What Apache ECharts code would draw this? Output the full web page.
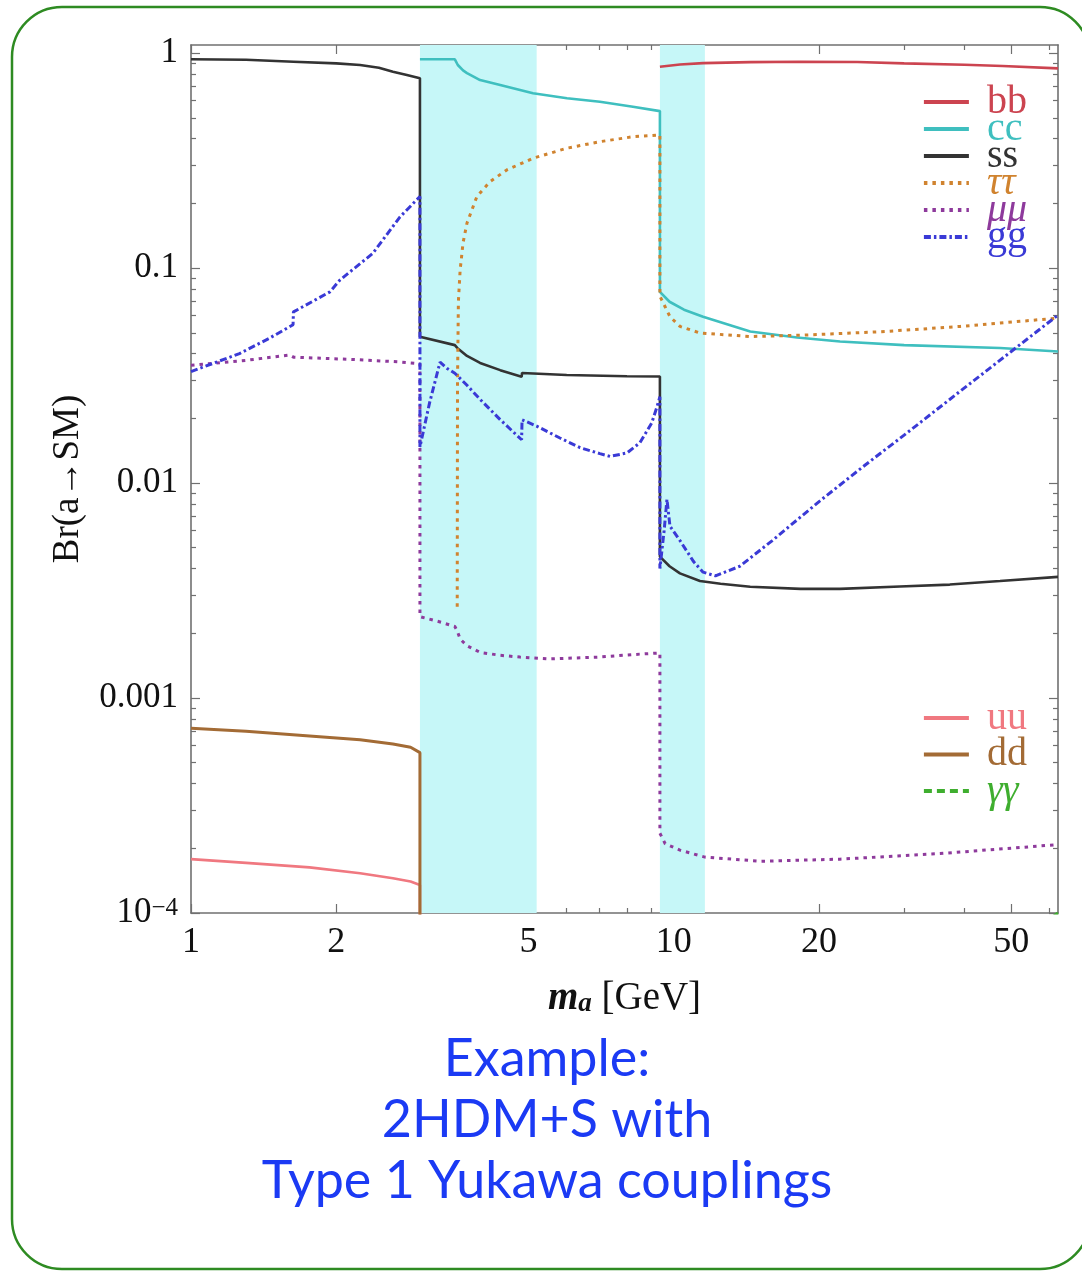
<!DOCTYPE html>
<html>
<head>
<meta charset="utf-8">
<script src="https://cdn.jsdelivr.net/npm/echarts@6/dist/echarts.min.js"></script>
<style>
  html, body { margin: 0; padding: 0; background: #ffffff; }
  #chart { width: 1082px; height: 1273px; }
</style>
</head>
<body>
<div id="chart"></div>
<script>
// Branching ratios Br(a -> SM) of the light pseudoscalar, pairs of [m_a in GeV, Br]
const bbData = [[9.36, 0.864], [10.3, 0.885], [11.5, 0.898], [14.4, 0.907], [18.3, 0.911], [24, 0.908],
  [30, 0.895], [40, 0.882], [48, 0.87], [62.5, 0.849]];

const ccData = [[2.98, 0.935], [3.52, 0.935], [3.57, 0.88], [3.66, 0.83], [3.73, 0.807], [3.97, 0.749],
  [4.37, 0.71], [5.11, 0.65], [6.01, 0.616], [7.03, 0.594], [8.23, 0.563], [9.36, 0.537],
  [9.36, 0.0775], [9.8, 0.0697], [10.5, 0.064], [11.5, 0.0594], [14.4, 0.0507], [18, 0.0475],
  [22.1, 0.0455], [30, 0.0438], [47.4, 0.0425], [62.5, 0.0409]];

const ssData = [[1, 0.935], [1.3, 0.93], [1.63, 0.911], [2.0, 0.895], [2.24, 0.88], [2.45, 0.855],
  [2.62, 0.818], [2.8, 0.79], [2.98, 0.763],
  [2.98, 0.0479], [3.52, 0.0438], [3.56, 0.0425], [3.73, 0.039], [3.97, 0.0362], [4.37, 0.0335],
  [4.84, 0.0312], [4.85, 0.0325], [6.0, 0.0318], [8.0, 0.0314], [9.36, 0.0313],
  [9.36, 0.00455], [9.8, 0.0041], [10.3, 0.0038], [11.33, 0.0035], [12.5, 0.0034], [14.4, 0.00329],
  [18.3, 0.00322], [22.1, 0.00322], [29.4, 0.0033], [37.3, 0.00337], [47.4, 0.0035], [62.5, 0.00366]];

const tautauData = [[3.56, 0.00266], [3.565, 0.03], [3.58, 0.07], [3.61, 0.098], [3.66, 0.131],
  [3.73, 0.162], [3.91, 0.215], [4.16, 0.252], [4.51, 0.286], [5.11, 0.324], [6.01, 0.361],
  [7.03, 0.387], [8.23, 0.408], [9.36, 0.416],
  [9.36, 0.074], [9.82, 0.0594], [10.3, 0.0535], [11.33, 0.0499], [14.4, 0.048], [18.3, 0.0487],
  [26.7, 0.0505], [39.2, 0.0535], [62.5, 0.0585]];

const mumuData = [[1, 0.0353], [1.3, 0.0372], [1.6, 0.0394], [1.63, 0.0385], [2.2, 0.0375],
  [2.7, 0.0366], [2.98, 0.0359],
  [2.98, 0.00239], [3.3, 0.00225], [3.52, 0.00215], [3.56, 0.00205], [3.61, 0.00188], [3.73, 0.00175],
  [3.97, 0.00163], [4.37, 0.00158], [4.8, 0.00155], [5.5, 0.00152], [7.0, 0.00155], [8.5, 0.0016],
  [9.36, 0.00162],
  [9.36, 0.000235], [9.6, 0.00021], [10.3, 0.000196], [11.6, 0.000182], [15.1, 0.000174],
  [22.1, 0.000178], [35.6, 0.000189], [62.5, 0.000208]];

const ggData = [[1, 0.033], [1.26, 0.040], [1.45, 0.047], [1.627, 0.0545], [1.63, 0.0625], [1.94, 0.0775],
  [2.035, 0.088], [2.38, 0.117], [2.71, 0.173], [2.98, 0.215],
  [2.98, 0.0147], [3.12, 0.0236], [3.28, 0.0365], [3.4, 0.034], [3.52, 0.0324], [3.73, 0.0285],
  [3.97, 0.0245], [4.37, 0.0197], [4.84, 0.0159], [4.85, 0.0197], [5.2, 0.0184], [5.81, 0.0162],
  [6.4, 0.0146], [7.03, 0.0137], [7.38, 0.0133], [8.0, 0.0138], [8.51, 0.0154], [9.0, 0.019],
  [9.23, 0.0226], [9.36, 0.0252],
  [9.36, 0.0040], [9.55, 0.006], [9.68, 0.0084], [9.82, 0.0063], [10.3, 0.0054], [11.0, 0.0043],
  [11.5, 0.00385], [12.2, 0.0037], [13.7, 0.0041], [16, 0.0054], [20, 0.0082], [25, 0.0122],
  [30, 0.0167], [40, 0.0277], [50, 0.0409], [62.5, 0.0604]];

const uuData = [[1, 0.000178], [1.3, 0.000171], [1.76, 0.000163], [2.24, 0.000153], [2.62, 0.000145],
  [2.85, 0.00014], [2.98, 0.000135], [2.98, 0.000001]];

const ddData = [[1, 0.000723], [1.3, 0.0007], [1.76, 0.000666], [2.24, 0.00064], [2.62, 0.000611],
  [2.85, 0.00059], [2.98, 0.000557], [2.98, 0.000001]];

const gamgamData = [[35, 0.00004], [50, 0.00007], [62.5, 0.0001]];

// Shaded quarkonium mass windows [from, to] in GeV
const massBands = [[2.98, 5.20], [9.36, 11.6]];

// Axis ticks and labels
const xMajorTicks = [1, 2, 5, 10, 20, 50];
const xTickLabels = ['1', '2', '5', '10', '20', '50'];
const xMinorTicks = [3, 4, 6, 7, 8, 9, 30, 40, 60];
const yMajorTicks = [0.0001, 0.001, 0.01, 0.1, 1];
const yTickLabels = ['10{sup|\u22124}', '0.001', '0.01', '0.1', '1'];
const yMinorTicks = [];
for (let e = -4; e < 0; e++) {
  for (let m = 2; m <= 9; m++) yMinorTicks.push(m * Math.pow(10, e));
}

const legendTop = ['bb', 'cc', 'ss', '\u03c4\u03c4', '\u03bc\u03bc', 'gg'];
const legendBottom = ['uu', 'dd', '\u03b3\u03b3'];
const captionLines = ['Example:', '2HDM+S with', 'Type 1 Yukawa couplings'];

const X_MIN = 1, X_MAX = 62.5, Y_MIN = 0.0001, Y_MAX = 1.09;
const SERIF = '"Liberation Serif", "DejaVu Serif", serif';
const FRAME = '#707070';
const INK = '#111111';

const seriesStyle = {
  'bb':            { data: bbData,     color: '#cc4450', width: 2.6, type: 'solid' },
  'cc':            { data: ccData,     color: '#3fbfbf', width: 2.6, type: 'solid' },
  'ss':            { data: ssData,     color: '#333333', width: 2.6, type: 'solid' },
  '\u03c4\u03c4':  { data: tautauData, color: '#d0832f', width: 3,   type: [3.5, 5] },
  '\u03bc\u03bc':  { data: mumuData,   color: '#8e3a9c', width: 3,   type: [3.5, 5] },
  'gg':            { data: ggData,     color: '#3a3ad6', width: 3,   type: [7, 3, 2.5, 3] },
  'uu':            { data: uuData,     color: '#f07880', width: 2.6, type: 'solid' },
  'dd':            { data: ddData,     color: '#a36b35', width: 3,   type: 'solid' },
  '\u03b3\u03b3':  { data: gamgamData, color: '#3fae2f', width: 3,   type: [8, 5] }
};
const italicNames = ['\u03c4\u03c4', '\u03bc\u03bc', '\u03b3\u03b3'];

function closeTo(a, b) { return Math.abs(Math.log10(a) - Math.log10(b)) < 1e-6; }

function xAxisDef(position, ticks, len, main) {
  return {
    type: 'log', logBase: 10, min: X_MIN, max: X_MAX, position: position, gridIndex: 0,
    axisLine: { show: main, onZero: false, lineStyle: { color: FRAME, width: 1.6 } },
    axisTick: { show: true, inside: true, length: len, customValues: ticks, lineStyle: { color: FRAME, width: 1.2 } },
    axisLabel: position === 'bottom' && main ? {
      show: true, customValues: xMajorTicks, margin: 12,
      fontFamily: SERIF, fontSize: 36, color: INK,
      formatter: function (v) {
        const i = xMajorTicks.findIndex(function (t) { return closeTo(t, v); });
        return i >= 0 ? xTickLabels[i] : '';
      }
    } : { show: false },
    splitLine: { show: false },
    name: position === 'bottom' && main ? '{i|m}{s|a}{n| [GeV]}' : '',
    nameLocation: 'middle', nameGap: 66,
    nameTextStyle: {
      rich: {
        i: { fontFamily: SERIF, fontSize: 39, fontStyle: 'italic', fontWeight: 'bold', color: INK },
        s: { fontFamily: SERIF, fontSize: 27, fontStyle: 'italic', fontWeight: 'bold', color: INK, verticalAlign: 'bottom' },
        n: { fontFamily: SERIF, fontSize: 39, color: INK }
      }
    }
  };
}

function yAxisDef(position, ticks, len, main) {
  return {
    type: 'log', logBase: 10, min: Y_MIN, max: Y_MAX, position: position, gridIndex: 0,
    axisLine: { show: main, onZero: false, lineStyle: { color: FRAME, width: 1.6 } },
    axisTick: { show: true, inside: true, length: len, customValues: ticks, lineStyle: { color: FRAME, width: 1.2 } },
    axisLabel: position === 'left' && main ? {
      show: true, customValues: yMajorTicks, margin: 13,
      fontFamily: SERIF, fontSize: 35, color: INK,
      formatter: function (v) {
        const i = yMajorTicks.findIndex(function (t) { return closeTo(t, v); });
        return i >= 0 ? yTickLabels[i] : '';
      },
      rich: { sup: { fontFamily: SERIF, fontSize: 25, color: INK, verticalAlign: 'top' } }
    } : { show: false },
    splitLine: { show: false },
    name: position === 'left' && main ? 'Br(a\u2192SM)' : '',
    nameLocation: 'middle', nameGap: 104, nameRotate: 90,
    nameTextStyle: { fontFamily: SERIF, fontSize: 37, color: INK }
  };
}

const series = [{
  name: 'bands', type: 'line', data: [], xAxisIndex: 0, yAxisIndex: 0, z: 1, silent: true,
  markArea: {
    silent: true,
    itemStyle: { color: '#c6f7f8' },
    data: massBands.map(function (b) { return [{ xAxis: b[0] }, { xAxis: b[1] }]; })
  }
}];
Object.keys(seriesStyle).forEach(function (name) {
  const s = seriesStyle[name];
  series.push({
    name: name, type: 'line', data: s.data, xAxisIndex: 0, yAxisIndex: 0, z: 3,
    symbol: 'none', showSymbol: false, smooth: false, clip: true,
    lineStyle: { color: s.color, width: s.width, type: s.type, cap: 'butt' },
    itemStyle: { color: s.color }
  });
});

function legendData(names) {
  return names.map(function (n) {
    return {
      name: n,
      textStyle: { color: seriesStyle[n].color, fontStyle: italicNames.indexOf(n) >= 0 ? 'italic' : 'normal' }
    };
  });
}

function legendDef(names, top, gap) {
  return {
    data: legendData(names), orient: 'vertical', left: 922, top: top, padding: 0,
    itemWidth: 45, itemHeight: 14, itemGap: gap, selectedMode: false,
    itemStyle: { opacity: 0 },
    lineStyle: { width: 3.8 },
    textStyle: { fontFamily: SERIF, fontSize: 40, lineHeight: 28, padding: [0, 0, 0, 13] }
  };
}

const chart = echarts.init(document.getElementById('chart'), null, { renderer: 'canvas' });
chart.setOption({
  animation: false,
  backgroundColor: '#ffffff',
  grid: { left: 191, top: 45, width: 867, height: 868, containLabel: false, outerBoundsMode: 'none' },
  xAxis: [
    xAxisDef('bottom', xMajorTicks, 9, true),
    xAxisDef('top', xMajorTicks, 9, true),
    xAxisDef('bottom', xMinorTicks, 5, false),
    xAxisDef('top', xMinorTicks, 5, false)
  ],
  yAxis: [
    yAxisDef('left', yMajorTicks, 9, true),
    yAxisDef('right', yMajorTicks, 9, true),
    yAxisDef('left', yMinorTicks, 5, false),
    yAxisDef('right', yMinorTicks, 5, false)
  ],
  legend: [legendDef(legendTop, 82, -13), legendDef(legendBottom, 698, -3.5)],
  series: series,
  graphic: [
    {
      type: 'rect', silent: true, z: 100,
      shape: { x: 12, y: 7, width: 1078, height: 1262, r: 50 },
      style: { fill: 'none', stroke: '#2e8b22', lineWidth: 2.5 }
    },
    {
      type: 'text', silent: true, x: 547, y: 1029, z: 100,
      style: {
        text: captionLines.join('\n'), font: '52px Lato', fill: '#1b3af4',
        align: 'center', verticalAlign: 'top', lineHeight: 61
      }
    }
  ]
});
</script>
</body>
</html>
